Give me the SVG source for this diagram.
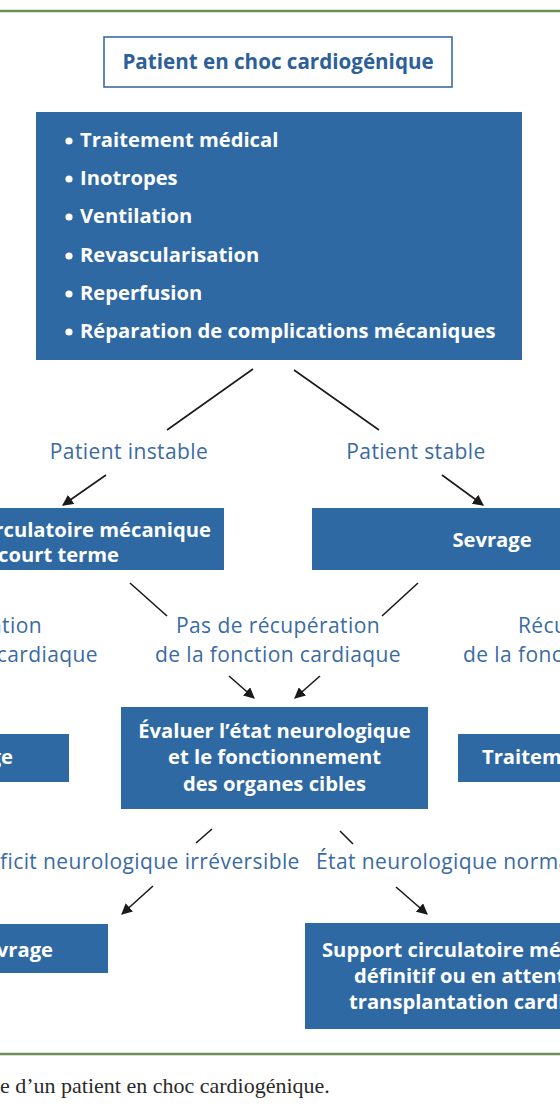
<svg xmlns="http://www.w3.org/2000/svg" width="560" height="1120" viewBox="0 0 560 1120">
<defs>
<style>
.rule{stroke:#6b8f55;stroke-width:2.5;fill:none}
.box{fill:#2e69a3}
.tbox{fill:#fff;stroke:#3b6ca3;stroke-width:1.6}
.ttl{font-family:"Open Sans","Noto Sans",sans-serif;font-weight:700;font-size:20.6px;fill:#2d6099}
.wt{font-family:"Open Sans","Noto Sans",sans-serif;font-weight:700;font-size:20.2px;fill:#fff}
.lbl{font-family:"Open Sans","Noto Sans",sans-serif;font-size:21px;fill:#3a6ba3;letter-spacing:0.4px}
.cap{font-family:"Liberation Serif",serif;font-size:22px;fill:#2a2a2a}
.ln{stroke:#1a1a1a;stroke-width:1.6;fill:none}
.ar{stroke:#1a1a1a;stroke-width:1.6;fill:none;marker-end:url(#ah)}
.dot{fill:#fff}
</style>
<marker id="ah" viewBox="0 0 10 10" refX="9" refY="5" markerWidth="11" markerHeight="11" markerUnits="userSpaceOnUse" orient="auto">
<path d="M0,0 L10,5 L0,10 z" fill="#1a1a1a"/>
</marker>
</defs>
<line class="rule" x1="0" y1="11" x2="560" y2="11"/>
<line class="rule" x1="0" y1="1054" x2="560" y2="1054"/>

<g id="n-title">
<rect class="tbox" x="104" y="37" width="348" height="50"/>
<text class="ttl" x="278" y="69" text-anchor="middle">Patient en choc cardiogénique</text>
</g>
<g id="n-treat">
<rect class="box" x="36" y="112" width="486" height="248"/>
<circle class="dot" cx="69" cy="141" r="3.6"/><text class="wt" x="80" y="147">Traitement médical</text>
<circle class="dot" cx="69" cy="179" r="3.6"/><text class="wt" x="80" y="185">Inotropes</text>
<circle class="dot" cx="69" cy="217" r="3.6"/><text class="wt" x="80" y="223">Ventilation</text>
<circle class="dot" cx="69" cy="256" r="3.6"/><text class="wt" x="80" y="262">Revascularisation</text>
<circle class="dot" cx="69" cy="294" r="3.6"/><text class="wt" x="80" y="300">Reperfusion</text>
<circle class="dot" cx="69" cy="332" r="3.6"/><text class="wt" x="80" y="338">Réparation de complications mécaniques</text>
</g>
<g id="l-instable"><text class="lbl" x="129" y="459" text-anchor="middle">Patient instable</text></g>
<g id="l-stable"><text class="lbl" x="416" y="459" text-anchor="middle">Patient stable</text></g>
<g id="n-support-ct">
<rect class="box" x="-10" y="508" width="234" height="62"/>
<text class="wt" x="211" y="537" text-anchor="end">rculatoire mécanique</text>
<text class="wt" x="119" y="562" text-anchor="end">court terme</text>
</g>
<g id="n-sevrage1">
<rect class="box" x="312" y="508" width="258" height="62"/>
<text class="wt" x="492" y="547" text-anchor="middle">Sevrage</text>
</g>
<g id="l-recup-left">
<text class="lbl" x="42" y="633" text-anchor="end">ation</text>
<text class="lbl" x="98" y="662" text-anchor="end">cardiaque</text>
</g>
<g id="l-norecup">
<text class="lbl" x="278" y="633" text-anchor="middle">Pas de récupération</text>
<text class="lbl" x="278" y="662" text-anchor="middle">de la fonction cardiaque</text>
</g>
<g id="l-recup-right">
<text class="lbl" x="518" y="633">Récu</text>
<text class="lbl" x="463" y="662">de la fonc</text>
</g>
<g id="n-left-mid">
<rect class="box" x="-10" y="734" width="79" height="48"/>
<text class="wt" x="13" y="764" text-anchor="end">ge</text>
</g>
<g id="n-eval">
<rect class="box" x="121" y="707" width="307" height="102"/>
<text class="wt" x="274.5" y="738" text-anchor="middle">Évaluer l’état neurologique</text>
<text class="wt" x="274.5" y="764" text-anchor="middle">et le fonctionnement</text>
<text class="wt" x="274.5" y="791" text-anchor="middle">des organes cibles</text>
</g>
<g id="n-right-mid">
<rect class="box" x="458" y="734" width="112" height="48"/>
<text class="wt" x="482" y="764">Traiteme</text>
</g>
<g id="l-deficit"><text class="lbl" x="0" y="869">ficit neurologique irréversible</text></g>
<g id="l-normal"><text class="lbl" x="316" y="869">État neurologique norma</text></g>
<g id="n-sevrage2">
<rect class="box" x="-10" y="924" width="118" height="49"/>
<text class="wt" x="53" y="957" text-anchor="end">vrage</text>
</g>
<g id="n-support-def">
<rect class="box" x="305" y="923" width="265" height="106"/>
<text class="wt" x="322" y="957">Support circulatoire mé</text>
<text class="wt" x="354" y="983">définitif ou en attent</text>
<text class="wt" x="349" y="1009">transplantation cardi</text>
</g>
<g id="connectors">
<line class="ln" x1="253" y1="369" x2="167" y2="430"/>
<line class="ln" x1="294" y1="370" x2="379" y2="430"/>
<line class="ar" x1="106" y1="475" x2="63" y2="505"/>
<line class="ar" x1="442" y1="475" x2="483" y2="505"/>
<line class="ln" x1="130" y1="583" x2="167" y2="616"/>
<line class="ln" x1="418" y1="583" x2="382" y2="616"/>
<line class="ar" x1="229" y1="676" x2="254" y2="698"/>
<line class="ar" x1="320" y1="676" x2="295" y2="698"/>
<line class="ln" x1="212" y1="829" x2="196" y2="843"/>
<line class="ln" x1="340" y1="831" x2="353" y2="844"/>
<line class="ar" x1="153" y1="886" x2="122" y2="914"/>
<line class="ar" x1="396" y1="887" x2="427" y2="914"/>
</g>
<g id="caption"><text class="cap" x="0" y="1093">e d’un patient en choc cardiogénique.</text></g>
</svg>
